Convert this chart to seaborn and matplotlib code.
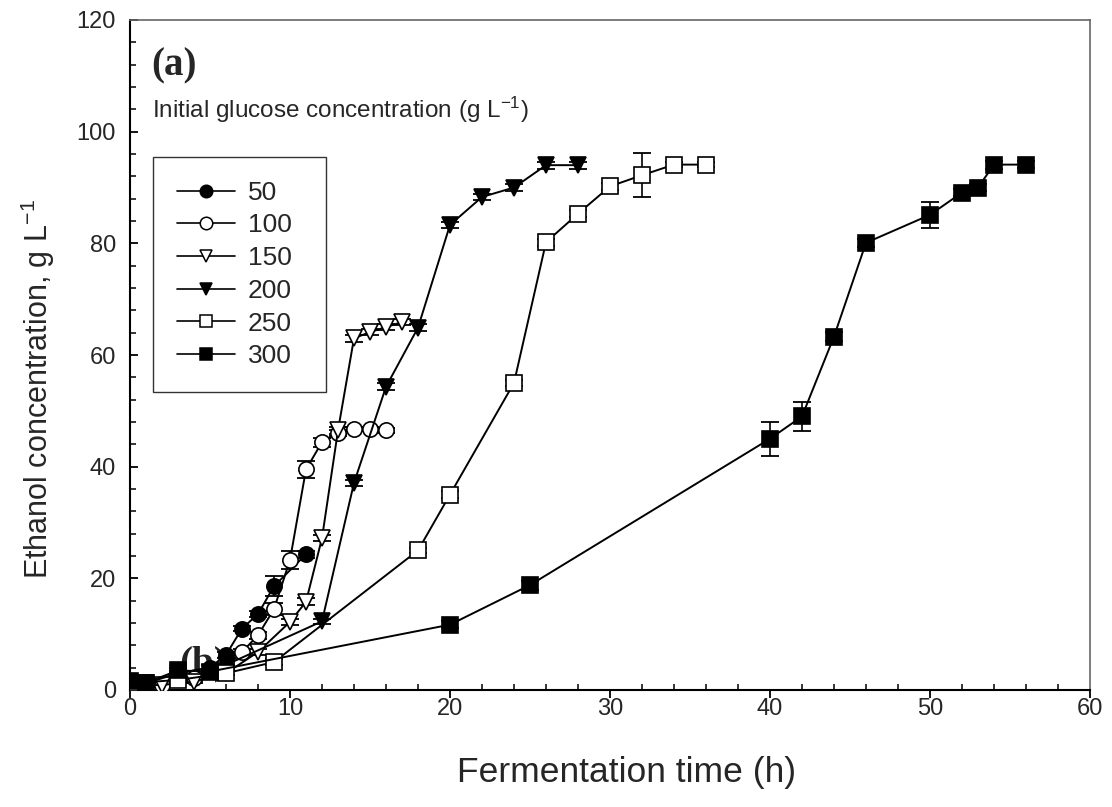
import matplotlib
matplotlib.use("Agg")
import matplotlib.pyplot as plt
import matplotlib.ticker as mticker
from matplotlib.lines import Line2D
import seaborn as sns
import pandas as pd

# ---------------- data ----------------
labels = ["50", "100", "150", "200", "250", "300"]

t_50 = [0, 1, 3, 5, 6, 7, 8, 9, 11]
y_50 = [1.5, 1.2, 3.0, 4.0, 6.3, 11.0, 13.6, 18.6, 24.3]
e_50 = [0.4, 0.3, 0.4, 0.5, 0.5, 0.5, 0.6, 1.8, 0.6]

t_100 = [0, 2, 4, 6, 7, 8, 9, 10, 11, 12, 13, 14, 15, 16]
y_100 = [0.8, 0.9, 2.1, 4.0, 6.8, 9.8, 14.5, 23.3, 39.5, 44.4, 46.0, 46.7, 46.7, 46.5]
e_100 = [0.3, 0.3, 0.4, 0.4, 0.5, 0.6, 1.0, 1.6, 1.5, 0.8, 0.5, 0.4, 0.4, 0.4]

t_150 = [0, 2, 4, 6, 8, 10, 11, 12, 13, 14, 15, 16, 17]
y_150 = [0.8, 0.9, 1.5, 3.0, 6.8, 12.2, 15.8, 27.2, 46.5, 63.0, 64.1, 65.0, 65.9]
e_150 = [0.3, 0.3, 0.3, 0.4, 0.5, 0.6, 0.6, 0.6, 0.6, 0.6, 0.5, 0.5, 0.5]

t_200 = [0, 1, 3, 6, 12, 14, 16, 18, 20, 22, 24, 26, 28]
y_200 = [1.5, 1.2, 3.0, 4.5, 12.3, 37.1, 54.3, 64.9, 83.3, 88.3, 90.0, 94.0, 94.0]
e_200 = [0.3, 0.3, 0.4, 0.4, 0.5, 0.6, 0.6, 0.6, 0.6, 0.6, 0.6, 0.6, 0.6]

t_250 = [0, 3, 6, 9, 18, 20, 24, 26, 28, 30, 32, 34, 36]
y_250 = [1.2, 1.8, 3.0, 5.0, 25.0, 35.0, 55.0, 80.2, 85.3, 90.2, 92.2, 94.1, 94.1]
e_250 = [0.3, 0.3, 0.4, 0.5, 0.5, 0.6, 0.6, 0.6, 0.6, 0.6, 3.9, 0.5, 0.5]

t_300 = [0, 1, 3, 5, 20, 25, 40, 42, 44, 46, 50, 52, 53, 54, 56]
y_300 = [1.6, 1.3, 3.5, 3.3, 11.7, 18.8, 45.0, 49.0, 63.3, 80.1, 85.1, 89.1, 90.0, 94.1, 94.1]
e_300 = [0.3, 0.3, 0.4, 0.4, 0.6, 0.8, 3.0, 2.6, 0.8, 0.7, 2.3, 0.6, 0.6, 0.7, 0.6]

x_ticks = [0, 10, 20, 30, 40, 50, 60]
y_ticks = [0, 20, 40, 60, 80, 100, 120]

series = [
    (labels[0], t_50, y_50, e_50, "o", "black"),
    (labels[1], t_100, y_100, e_100, "o", "white"),
    (labels[2], t_150, y_150, e_150, "v", "white"),
    (labels[3], t_200, y_200, e_200, "v", "black"),
    (labels[4], t_250, y_250, e_250, "s", "white"),
    (labels[5], t_300, y_300, e_300, "s", "black"),
]

# ---------------- style ----------------
sns.set_theme(style="ticks")
plt.rcParams["font.family"] = ["Liberation Sans", "DejaVu Sans"]
plt.rcParams["mathtext.default"] = "regular"

fig = plt.figure(figsize=(11.12, 8.07), dpi=100)
ax = fig.add_axes([130 / 1112, 1 - 690 / 807, 960 / 1112, 670 / 807])

ms = 11
lw = 1.4

# stray "(b)" label drawn underneath the data
ax.text(3.1, 3.0, "(b)", fontsize=28, fontweight="bold",
        family=["Liberation Serif", "DejaVu Serif"], color="#222222",
        ha="left", va="baseline", zorder=1)

for lab, t, y, e, mk, fc in series:
    df = pd.DataFrame({"t": t, "y": y})
    ax.errorbar(t, y, yerr=e, fmt="none", ecolor="black", elinewidth=1.2,
                capsize=6.5, capthick=1.3, zorder=2)
    sns.lineplot(data=df, x="t", y="y", ax=ax, color="black", linewidth=lw,
                 marker=mk, markersize=ms, markerfacecolor=fc,
                 markeredgecolor="black", markeredgewidth=1.2,
                 estimator=None, sort=False, legend=False, zorder=3)

ax.set_xlim(0, 60)
ax.set_ylim(0, 120)
ax.xaxis.set_major_locator(mticker.FixedLocator(x_ticks))
ax.yaxis.set_major_locator(mticker.FixedLocator(y_ticks))
ax.xaxis.set_minor_locator(mticker.MultipleLocator(2))
ax.yaxis.set_minor_locator(mticker.MultipleLocator(4))
ax.set_xticklabels([str(v) for v in x_ticks])
ax.set_yticklabels([str(v) for v in y_ticks])

ax.tick_params(axis="x", which="major", direction="out", length=6, width=1.3,
               labelsize=17, pad=0, color="black")
ax.tick_params(axis="x", which="minor", direction="in", length=4, width=1.1,
               color="black")
ax.tick_params(axis="y", which="major", direction="in", length=6, width=1.3,
               labelsize=17, pad=10, color="black")
ax.tick_params(axis="y", which="minor", direction="in", length=4, width=1.1,
               color="black")

for side in ["left", "bottom"]:
    ax.spines[side].set_color("black")
    ax.spines[side].set_linewidth(1.5)
for side in ["top", "right"]:
    ax.spines[side].set_visible(True)
    ax.spines[side].set_color("#666666")
    ax.spines[side].set_linewidth(1.2)

ax.set_xlabel("Fermentation time (h)", fontsize=25.5, labelpad=26)
ax.xaxis.label.set_x((627 - 130) / 960)
ax.set_ylabel("Ethanol concentration, g L$^{-1}$", fontsize=22, labelpad=14)
ax.yaxis.label.set_y((690 - 389) / 670)

ax.text(21 / 960, (690 - 66) / 670, "(a)", transform=ax.transAxes, fontsize=28,
        fontweight="bold", family=["Liberation Serif", "DejaVu Serif"],
        ha="left", va="center")

# legend
handles = [Line2D([0], [0], color="black", linewidth=1.2, marker=mk,
                  markersize=9, markerfacecolor=fc, markeredgecolor="black",
                  markeredgewidth=1.1)
           for lab, t, y, e, mk, fc in series]
leg = ax.legend(handles, labels, loc="upper left",
                bbox_to_anchor=(23 / 960, (690 - 392) / 670, 173 / 960, (392 - 157) / 670),
                mode="expand",
                borderaxespad=0, frameon=True, fancybox=False,
                fontsize=19, handlelength=2.2, handletextpad=0.5,
                labelspacing=0.33, borderpad=0.9)
leg.get_frame().set_edgecolor("black")
leg.get_frame().set_linewidth(1.0)

ax.text(22 / 960, (690 - 110) / 670, "Initial glucose concentration (g L$^{-1}$)",
        transform=ax.transAxes, fontsize=17.5, ha="left", va="center")

fig.savefig("out.png", dpi=100)
